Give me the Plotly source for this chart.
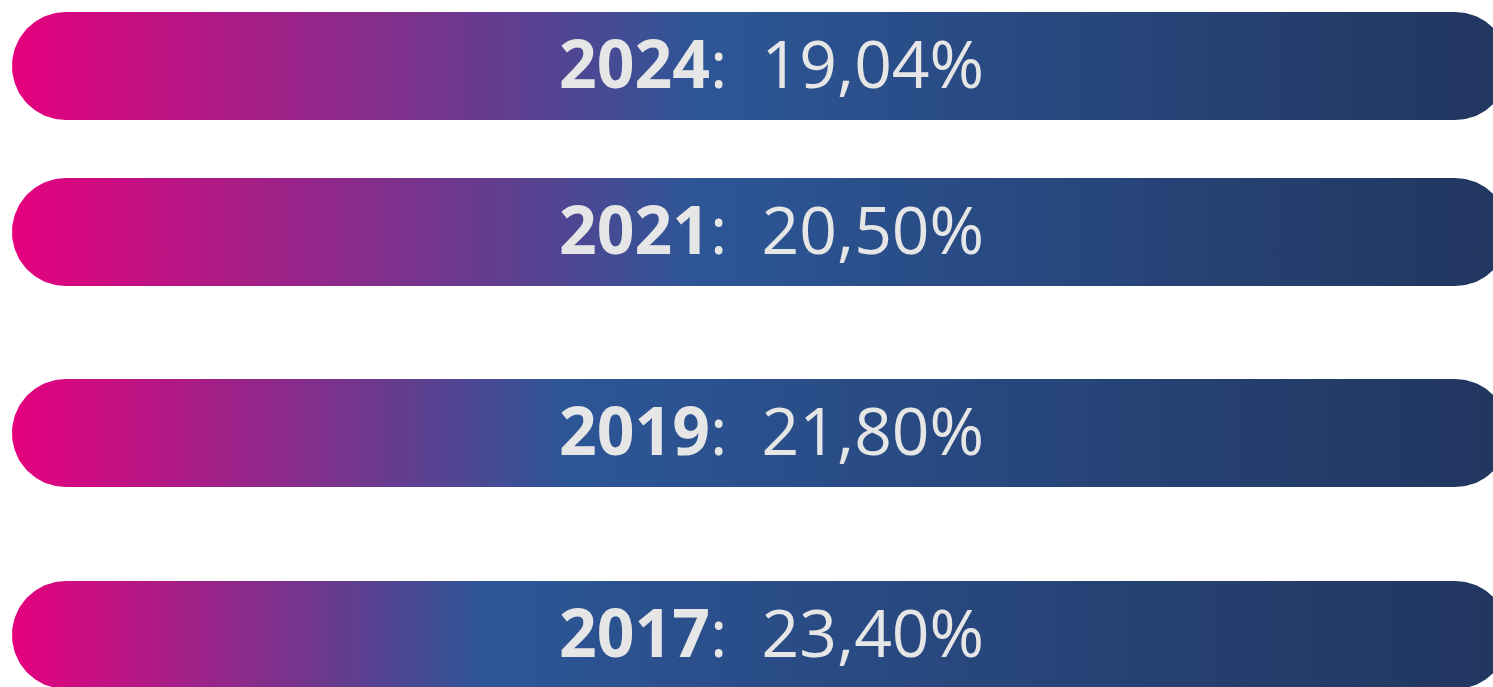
import numpy as np
import plotly.graph_objects as go

# ---- data ----
years = ["2024", "2021", "2019", "2017"]
values = [19.04, 20.50, 21.80, 23.40]

# ---- layout (pixel space of the page) ----
W, H = 1493, 687
row_top = [12, 178, 379, 581]
bar_h = 108
x_left, x_right = 12, 1509
blue_stop = [0.46, 0.455, 0.37, 0.315]

PINK, BLUE, NAVY = "#E6007E", "#2D5697", "#21365F"


def pill(x0, x1, y0, y1, n=60):
    r = (y1 - y0) / 2
    cy = (y0 + y1) / 2
    a1 = np.linspace(-np.pi / 2, np.pi / 2, n)
    a2 = np.linspace(np.pi / 2, 3 * np.pi / 2, n)
    xs = np.concatenate([x1 - r + r * np.cos(a1), x0 + r + r * np.cos(a2)])
    ys = np.concatenate([cy + r * np.sin(a1), cy + r * np.sin(a2)])
    xs = np.append(xs, xs[0])
    ys = np.append(ys, ys[0])
    return xs, ys


fig = go.Figure()
annotations = []
for yr, val, top, bs in zip(years, values, row_top, blue_stop):
    xs, ys = pill(x_left, x_right, top, top + bar_h)
    fig.add_trace(go.Scatter(
        x=xs, y=ys, mode="lines", fill="toself",
        line=dict(width=0, color="rgba(0,0,0,0)"),
        fillgradient=dict(
            type="horizontal", start=x_left, stop=x_right,
            colorscale=[[0, PINK], [bs, BLUE], [1, NAVY]],
        ),
        hoverinfo="skip", showlegend=False,
    ))
    label = f"{val:.2f}".replace(".", ",") + "%"
    annotations.append(dict(
        x=771, y=top + bar_h / 2 - 4, xref="x", yref="y",
        text=f"<b>{yr}</b>:\u00a0\u00a0{label}",
        showarrow=False, xanchor="center", yanchor="middle",
        font=dict(family="Open Sans", size=66, color="#E6E6E6"),
    ))

fig.update_layout(
    width=W, height=H,
    margin=dict(l=0, r=0, t=0, b=0),
    paper_bgcolor="white", plot_bgcolor="white",
    xaxis=dict(range=[0, W], visible=False, fixedrange=True),
    yaxis=dict(range=[H, 0], visible=False, fixedrange=True),
    annotations=annotations,
)
fig.write_html(
    "out.html",
    config={"displayModeBar": False},
    post_script="document.body.style.margin='0';document.body.style.overflow='hidden';",
)
